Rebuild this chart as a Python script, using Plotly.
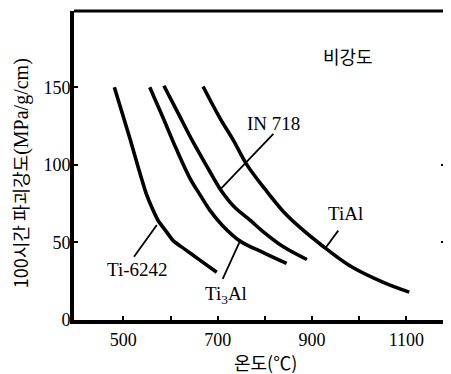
import plotly.graph_objects as go

# ---- data ----
ti6242_x = [481, 490, 500, 514, 532, 548, 562, 574, 590, 606, 630, 660, 698]
ti6242_y = [150, 141, 131, 117, 98, 82, 71.5, 64, 57.5, 51, 45.7, 39.1, 30.8]

ti3al_x = [556, 584, 612, 641, 662, 684, 710, 747, 800, 846]
ti3al_y = [150, 130.5, 110.5, 91.5, 81, 70.5, 61, 51, 43, 36.5]

in718_x = [586, 615, 648, 680, 705, 735, 768, 800, 840, 889]
in718_y = [151, 134, 114.6, 97.5, 84.5, 73, 64.5, 56, 47, 39]

tial_x = [669, 705, 733, 762, 800, 839, 875, 917, 980, 1051, 1106]
tial_y = [150.5, 130, 116, 100, 84.5, 70, 59.5, 49, 35, 24.3, 18]

# label leader lines
lead_in718_x = [818, 705]
lead_in718_y = [120, 84]
lead_tial_x = [955.5, 929.5]
lead_tial_y = [57.6, 46.9]
lead_6242_x = [522.7, 571]
lead_6242_y = [40.8, 61.3]
lead_ti3al_x = [710.6, 748.7]
lead_ti3al_y = [26.5, 51.8]

labels = ["IN 718", "TiAl", "Ti-6242", "Ti<sub>3</sub>Al"]
label_x = [819, 970, 530, 717]
label_y = [127, 68.4, 32.4, 16.2]

x_ticks = [500, 700, 900, 1100]
x_minor = [600, 800, 1000]
y_ticks = [0, 50, 100, 150]

SERIF = "Liberation Serif, Times New Roman, serif"
KR = "Noto Sans CJK KR, sans-serif"

fig = go.Figure()

series = [(ti6242_x, ti6242_y, 0.45), (ti3al_x, ti3al_y, 1.0),
          (in718_x, in718_y, 1.0), (tial_x, tial_y, 1.0)]
for xs, ys, sm in series:
    fig.add_trace(go.Scatter(x=xs, y=ys, mode="lines",
                             line=dict(color="black", width=3.6, shape="spline", smoothing=sm),
                             hoverinfo="skip", showlegend=False))

for xs, ys in [(lead_in718_x, lead_in718_y), (lead_tial_x, lead_tial_y),
               (lead_6242_x, lead_6242_y), (lead_ti3al_x, lead_ti3al_y)]:
    fig.add_trace(go.Scatter(x=xs, y=ys, mode="lines",
                             line=dict(color="black", width=1.8),
                             hoverinfo="skip", showlegend=False))

# empty trace for the right-side tick axis
fig.add_trace(go.Scatter(x=[None], y=[None], yaxis="y2", showlegend=False, hoverinfo="skip"))

for t, x, y in zip(labels, label_x, label_y):
    fig.add_annotation(x=x, y=y, text=t, showarrow=False,
                       font=dict(family=SERIF, size=19, color="black"))

fig.add_annotation(x=976, y=170.2, text="비강도", showarrow=False,
                   font=dict(family=KR, size=18, color="black"))

fig.add_annotation(xref="paper", yref="paper", x=0, y=0.475, xshift=-54,
                   text="100시간 파괴강도<span style='font-family:Liberation Serif;font-size:20px'>(MPa/g/cm)</span>",
                   textangle=-90, showarrow=False, xanchor="center", yanchor="middle",
                   font=dict(family=KR, size=18, color="black"))

fig.add_annotation(xref="paper", yref="paper", x=0.515, y=0, yshift=-42,
                   text="온도(℃)", showarrow=False, xanchor="center", yanchor="middle",
                   font=dict(family=KR, size=18, color="black"))

# top and right border
fig.add_shape(type="line", xref="paper", yref="paper", x0=0, x1=1.02, y0=1, y1=1,
              line=dict(color="black", width=3))
fig.add_shape(type="line", xref="paper", yref="paper", x0=1.004, x1=1.004, y0=0, y1=1,
              line=dict(color="black", width=2))

# the page body has an 8px margin, so the figure is 8px smaller and margins shifted
fig.update_layout(
    width=443, height=366,
    margin=dict(l=66, r=6, t=3, b=54),
    plot_bgcolor="white", paper_bgcolor="white",
    font=dict(family=SERIF, size=18, color="black"),
    xaxis=dict(range=[395.5, 1181.7], showgrid=False, zeroline=False,
               showline=True, linecolor="black", linewidth=4,
               tickmode="array", tickvals=x_ticks, ticktext=[str(v) for v in x_ticks],
               ticks="inside", ticklen=4, tickwidth=2, tickcolor="black",
               minor=dict(tickmode="array", tickvals=x_minor, ticks="inside",
                          ticklen=4, tickwidth=2, tickcolor="black"),
               tickfont=dict(family=SERIF, size=18, color="black")),
    yaxis=dict(range=[0, 199.2], showgrid=False, zeroline=False,
               showline=True, linecolor="black", linewidth=4,
               tickmode="array", tickvals=y_ticks, ticktext=[str(v) for v in y_ticks],
               ticks="inside", ticklen=4, tickwidth=2, tickcolor="black",
               ticklabelstandoff=-4,
               tickfont=dict(family=SERIF, size=18, color="black")),
    yaxis2=dict(range=[0, 199.2], overlaying="y", side="right", showgrid=False,
                zeroline=False, showline=False, showticklabels=False,
                tickmode="array", tickvals=[50, 100],
                ticks="inside", ticklen=4, tickwidth=2, tickcolor="black"),
)

fig.write_html("out.html")
